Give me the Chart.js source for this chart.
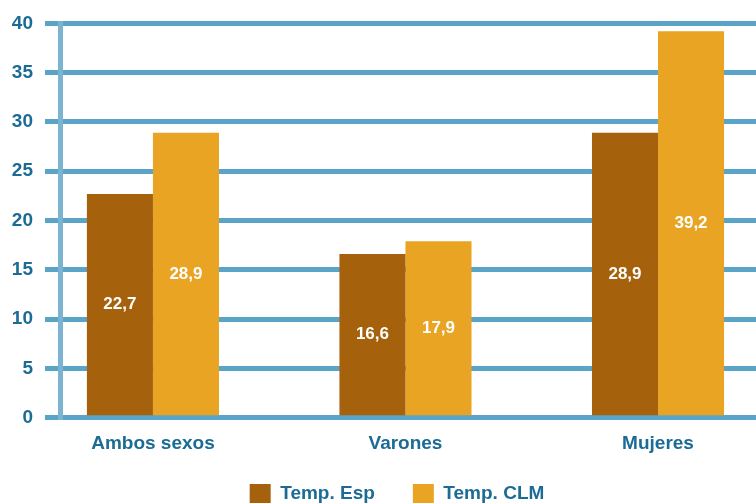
<!DOCTYPE html>
<html>
<head>
<meta charset="utf-8">
<script src="https://cdn.jsdelivr.net/npm/chart.js@4"></script>
<style>
  html, body { margin: 0; padding: 0; background: #fff; }
  #wrap { width: 756px; height: 503px; }
</style>
</head>
<body>
<div id="wrap"><canvas id="myChart"></canvas></div>
<script>
// Datos
let categories = ["Ambos sexos", "Varones", "Mujeres"];
let tempEsp = [22.7, 16.6, 28.9];
let tempCLM = [28.9, 17.9, 39.2];
let seriesNames = ["Temp. Esp", "Temp. CLM"];
let yTicks = [0, 5, 10, 15, 20, 25, 30, 35, 40];

let textColor = "#1b6b95";
let font = "'Liberation Sans', Arial, sans-serif";

// valores dentro de las barras
const barLabels = {
  id: "barLabels",
  afterDatasetsDraw(chart) {
    const ctx = chart.ctx;
    ctx.save();
    ctx.font = "bold 17px " + font;
    ctx.fillStyle = "#ffffff";
    ctx.textAlign = "center";
    ctx.textBaseline = "middle";
    chart.data.datasets.forEach((ds, i) => {
      chart.getDatasetMeta(i).data.forEach((bar, j) => {
        const p = bar.getProps(["x", "y", "base"], true);
        ctx.fillText(ds.data[j].y.toFixed(1).replace(".", ","), p.x, (p.y + p.base) / 2);
      });
    });
    ctx.restore();
  }
};

// mover la leyenda un poco (arriba y a la derecha)
const moveLegend = {
  id: "moveLegend",
  afterLayout(chart) {
    const lg = chart.legend;
    if (!lg) return;
    lg.top -= 24.5; lg.bottom -= 24.5;
    lg.left += 19; lg.right += 19;
  }
};

new Chart("myChart", {
  type: "bar",
  data: {
    datasets: [{
      label: seriesNames[0],
      backgroundColor: "#a6610c",
      data: tempEsp.map((v, i) => ({ x: i, y: v }))
    }, {
      label: seriesNames[1],
      backgroundColor: "#e9a423",
      data: tempCLM.map((v, i) => ({ x: i, y: v }))
    }]
  },
  options: {
    responsive: true,
    maintainAspectRatio: false,
    animation: false,
    layout: { padding: { top: 22, right: 0, left: 0, bottom: -35.5 } },
    categoryPercentage: 0.523,
    barPercentage: 1,
    plugins: {
      tooltip: { enabled: false },
      legend: {
        position: "bottom",
        labels: {
          boxWidth: 21,
          boxHeight: 20,
          padding: 38,
          color: textColor,
          font: { family: font, size: 19, weight: "bold" }
        }
      }
    },
    scales: {
      x: {
        type: "linear",
        offset: false,
        min: -0.368,
        max: 2.388,
        afterBuildTicks: (scale) => { scale.ticks = categories.map((c, i) => ({ value: i })); },
        grid: { display: false, drawTicks: false },
        border: { display: false },
        ticks: {
          padding: 15,
          color: textColor,
          font: { family: font, size: 19, weight: "bold" },
          callback: (v) => categories[v]
        }
      },
      y: {
        min: 0,
        max: 40,
        afterBuildTicks: (scale) => { scale.ticks = yTicks.map(v => ({ value: v })); },
        afterFit: (scale) => { scale.width = 60; },
        grid: { color: "#5aa4c7", lineWidth: 5, tickLength: 15 },
        border: { display: true, color: "#7bb3d1", width: 5 },
        ticks: {
          padding: 12,
          color: textColor,
          font: { family: font, size: 19, weight: "bold" }
        }
      }
    }
  },
  plugins: [barLabels, moveLegend]
});
</script>
</body>
</html>
